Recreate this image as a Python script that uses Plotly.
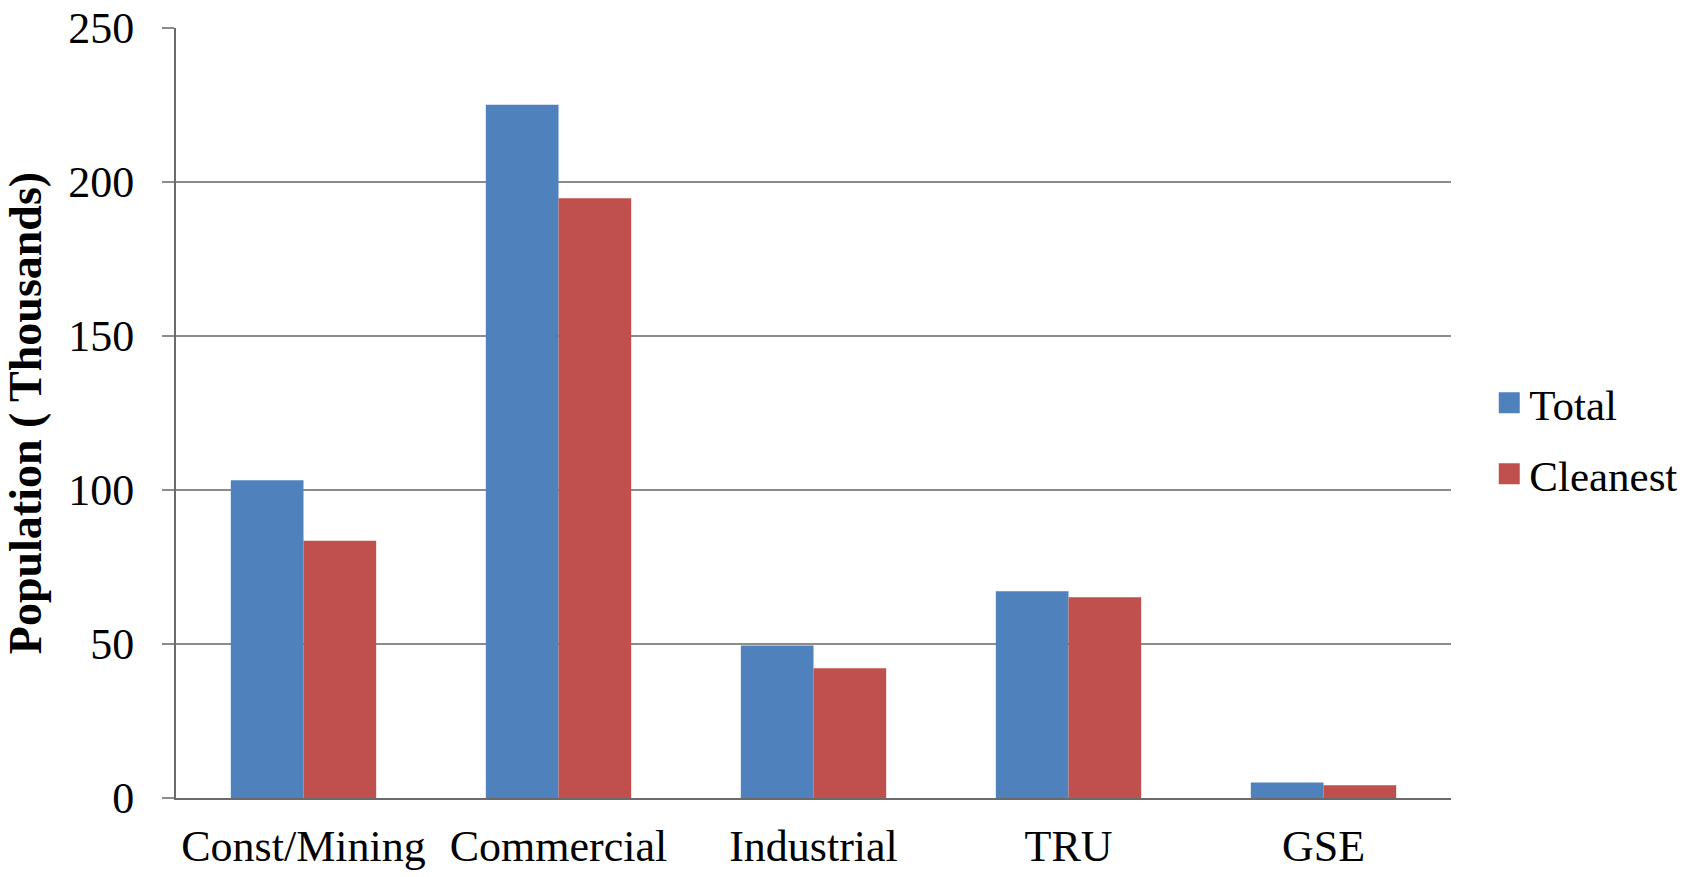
import plotly.graph_objects as go

categories = ["Const/Mining", "Commercial", "Industrial", "TRU", "GSE"]
total = [103.2, 225.1, 49.5, 67.1, 5.0]
cleanest = [83.5, 194.7, 42.1, 65.2, 4.1]
y_ticks = [0, 50, 100, 150, 200, 250]
series_names = ["Total", "Cleanest"]
colors = ["#4F81BD", "#C0504D"]

FONT = "Liberation Serif"

fig = go.Figure()
for name, vals, col in zip(series_names, [total, cleanest], colors):
    fig.add_trace(go.Bar(name=name, x=categories, y=vals, showlegend=False,
                         marker=dict(color=col, line=dict(width=0))))
# legend entries with larger square swatches
for name, col in zip(series_names, colors):
    fig.add_trace(go.Scatter(name=name, x=[None], y=[None], mode="markers", legendgroup=name,
                             marker=dict(symbol="square", size=16, color=col,
                                         line=dict(width=5, color=col)), showlegend=True))

fig.update_layout(
    width=1698, height=877,
    barmode="group", bargap=0.43, bargroupgap=0,
    plot_bgcolor="white", paper_bgcolor="white",
    margin=dict(l=176, r=247, t=28, b=79, autoexpand=False),
    font=dict(family=FONT, size=44, color="black"),
    showlegend=True,
    legend=dict(x=1.03, y=0.467, xanchor="left", yanchor="middle",
                font=dict(family=FONT, size=43), itemsizing="trace",
                tracegroupgap=12),
    xaxis=dict(showline=True, linecolor="#6b6b6b", linewidth=2, ticks="",
               tickfont=dict(family=FONT, size=44), ticklabelstandoff=8),
    yaxis=dict(range=[0, 250], tickvals=y_ticks, showgrid=True, gridcolor="#8c8c8c", gridwidth=1.5,
               showline=True, linecolor="#6b6b6b", linewidth=2,
               ticks="outside", ticklen=12, tickcolor="#8c8c8c", tickwidth=1.5,
               tickfont=dict(family=FONT, size=44), ticklabelstandoff=19,
               zeroline=False,
               title=dict(text="<b>Population ( Thousands)</b>", font=dict(family=FONT, size=46), standoff=12)),
)

fig.write_html("out.html", config={"displayModeBar": False},
               post_script="document.body.style.margin='0';")
